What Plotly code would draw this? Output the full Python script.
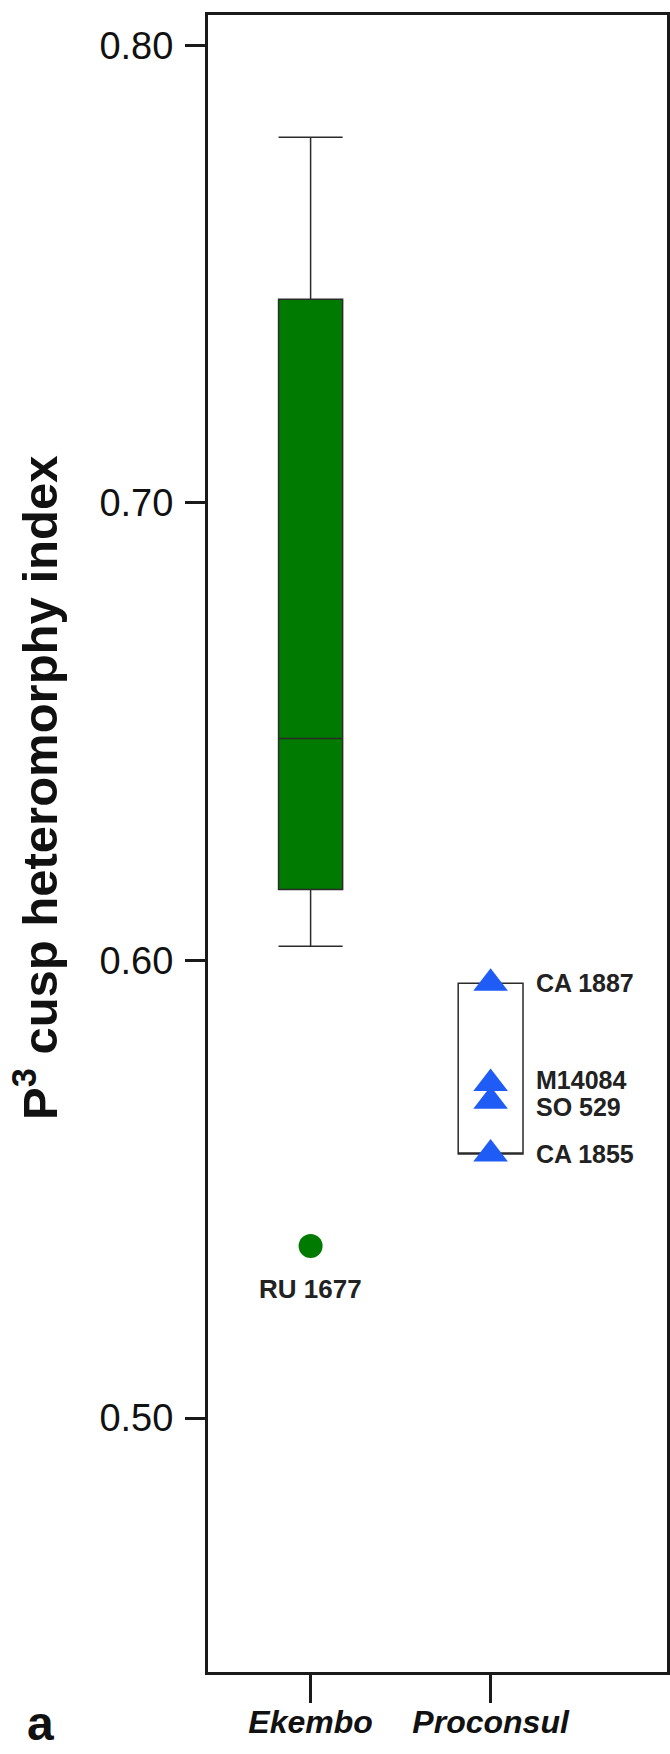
import plotly.graph_objects as go

# ---- data ----
categories = ["Ekembo", "Proconsul"]
cat_pos = [0, 1]

# Ekembo box summary
ekembo_lowerfence = 0.6031
ekembo_q1 = 0.6155
ekembo_median = 0.6485
ekembo_q3 = 0.7445
ekembo_upperfence = 0.7799

ekembo_outlier_value = [0.5376]
ekembo_outlier_label = ["RU 1677"]

proconsul_values = [0.5950, 0.5731, 0.5692, 0.5577]
proconsul_labels = ["CA 1887", "M14084", "SO 529", "CA 1855"]
proconsul_label_shift = [0, 4, -6, 0]

y_tickvals = [0.50, 0.60, 0.70, 0.80]
y_ticktext = ["0.50", "0.60", "0.70", "0.80"]

GREEN = "#007a00"
BLUE = "#1f5cf5"
FONT = "Liberation Sans, Arial, sans-serif"

fig = go.Figure()

# Ekembo box
fig.add_trace(go.Box(
    x=[cat_pos[0]],
    q1=[ekembo_q1], median=[ekembo_median], q3=[ekembo_q3],
    lowerfence=[ekembo_lowerfence], upperfence=[ekembo_upperfence],
    boxpoints=False, width=0.356, whiskerwidth=1,
    fillcolor=GREEN, line=dict(color="#2b2b2b", width=1.5),
    showlegend=False, hoverinfo="skip",
))

# Proconsul box (range of specimens)
p_min = min(proconsul_values)
p_max = max(proconsul_values)
fig.add_trace(go.Box(
    x=[cat_pos[1]],
    q1=[p_min], median=[p_min], q3=[p_max],
    lowerfence=[p_min], upperfence=[p_max],
    boxpoints=False, width=0.36, whiskerwidth=1,
    fillcolor="rgba(255,255,255,0)", line=dict(color="#2b2b2b", width=1.5),
    showlegend=False, hoverinfo="skip",
))

# Ekembo outlier
fig.add_trace(go.Scatter(
    x=[cat_pos[0]] * len(ekembo_outlier_value), y=ekembo_outlier_value,
    mode="markers", marker=dict(symbol="circle", size=24, color=GREEN),
    showlegend=False, hoverinfo="skip",
))

# Proconsul specimens
fig.add_trace(go.Scatter(
    x=[cat_pos[1]] * len(proconsul_values), y=proconsul_values,
    mode="markers", marker=dict(symbol="triangle-up", size=30, color=BLUE),
    showlegend=False, hoverinfo="skip",
))

annotations = []
for v, lab in zip(ekembo_outlier_value, ekembo_outlier_label):
    annotations.append(dict(
        x=cat_pos[0], y=v, xref="x", yref="y", text="<b>" + lab + "</b>",
        showarrow=False, yshift=-43,
        font=dict(family=FONT, size=26, color="#222"),
        xanchor="center", yanchor="middle",
    ))
for v, lab, sh in zip(proconsul_values, proconsul_labels, proconsul_label_shift):
    annotations.append(dict(
        x=cat_pos[1], y=v, xref="x", yref="y", text="<b>" + lab + "</b>",
        showarrow=False, xshift=43, yshift=sh,
        font=dict(family=FONT, size=25, color="#222"),
        xanchor="left", yanchor="middle",
    ))

# y-axis title
annotations.append(dict(
    x=36, y=1754 - 788, xref="paper", yref="paper",
    text="<b>P<sup>3</sup> cusp heteromorphy index</b>", showarrow=False,
    textangle=-90, font=dict(family=FONT, size=49, color="#111"),
    xanchor="center", yanchor="middle",
))
# panel letter
annotations.append(dict(
    x=40, y=1754 - 1723, xref="paper", yref="paper",
    text="<b>a</b>", showarrow=False,
    font=dict(family=FONT, size=48, color="#111"),
    xanchor="center", yanchor="middle",
))

# convert pixel-based paper annotations into paper fractions
L, R, T, B = 208, 3, 15, 82
W, H = 670, 1754
pw, ph = W - L - R, H - T - B
for a in annotations:
    if a["xref"] == "paper":
        a["x"] = (a["x"] - L) / pw
        a["y"] = (a["y"] - B) / ph

fig.update_layout(
    width=W, height=H,
    margin=dict(l=L, r=R, t=T, b=B, autoexpand=False),
    paper_bgcolor="white", plot_bgcolor="white",
    annotations=annotations,
    font=dict(family=FONT, color="#111"),
)

fig.update_xaxes(
    range=[-0.57, 1.98], automargin=False,
    tickmode="array", tickvals=cat_pos,
    ticktext=["<b><i>" + c + "</i></b>" for c in categories],
    tickfont=dict(family=FONT, size=32, color="#111"),
    ticks="outside", ticklen=28, tickwidth=3, tickcolor="#1a1a1a",
    ticklabelstandoff=-8,
    showline=True, linewidth=3, linecolor="#1a1a1a", mirror=True,
    showgrid=False, zeroline=False,
)
fig.update_yaxes(
    range=[0.4445, 0.8066], automargin=False,
    tickmode="array", tickvals=y_tickvals, ticktext=y_ticktext,
    tickfont=dict(family=FONT, size=38, color="#111"),
    ticks="outside", ticklen=20, tickwidth=3, tickcolor="#1a1a1a",
    ticklabelstandoff=4,
    showline=True, linewidth=3, linecolor="#1a1a1a", mirror=True,
    showgrid=False, zeroline=False,
)

fig.write_html("out.html")
